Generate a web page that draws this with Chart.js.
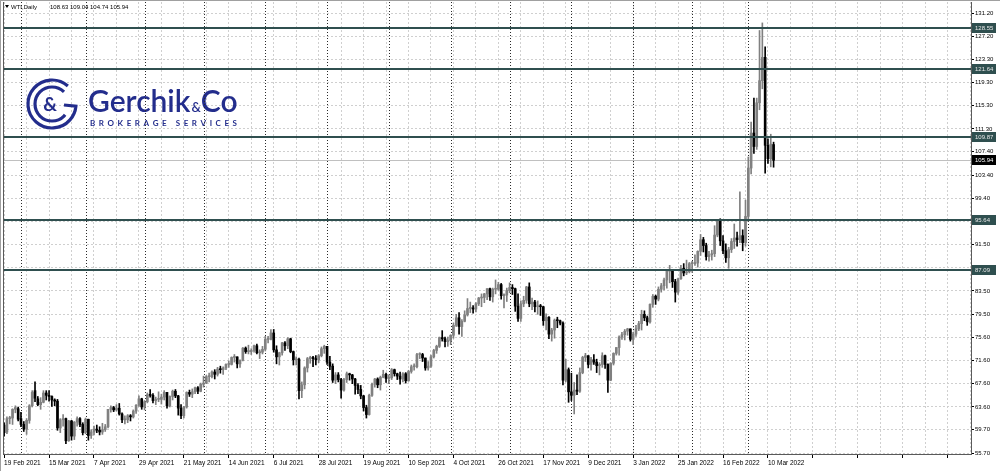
<!DOCTYPE html>
<html>
<head>
<meta charset="utf-8">
<title>WTI Daily</title>
<script src="https://cdn.jsdelivr.net/npm/chart.js@4.4.0/dist/chart.umd.min.js"></script>
<style>
  html, body { margin: 0; padding: 0; background: #fff; }
  #wrap { width: 1000px; height: 471px; }
</style>
</head>
<body>
<div id="wrap"><canvas id="wti" width="1000" height="471"></canvas></div>
<script>
// one label every 16 bars, bar 0 = 19 Feb 2021
const dateLabels = ['19 Feb 2021', '15 Mar 2021', '7 Apr 2021', '29 Apr 2021', '21 May 2021', '14 Jun 2021',
  '6 Jul 2021', '28 Jul 2021', '19 Aug 2021', '10 Sep 2021', '4 Oct 2021', '26 Oct 2021', '17 Nov 2021',
  '9 Dec 2021', '3 Jan 2022', '25 Jan 2022', '16 Feb 2022', '10 Mar 2022'];

// first bar of each month (period separators)
const monthStarts = [6, 29, 50, 71, 93, 115, 137, 159, 180, 202, 224, 245, 265];

const yTicks = [131.20, 127.20, 123.30, 119.30, 115.30, 111.30, 107.40, 103.40, 99.40, 95.50, 91.50,
  87.50, 83.50, 79.50, 75.60, 71.60, 67.60, 63.60, 59.70, 55.70];

const levels = [128.55, 121.64, 109.87, 95.64, 87.09];
const lastPrice = 105.94;
const legendValues = ['108.63', '109.04', '104.74', '105.94'];

const opens = [
  60.5, 59.3, 61.6, 61.7, 63.2, 63.3, 61.6, 60.6, 59.8, 61.3,
  63.8, 66.4, 65.0, 64.0, 64.4, 66.0, 65.6, 65.4, 64.8, 64.6,
  60.0, 61.4, 61.6, 57.8, 61.2, 58.6, 61.0, 61.6, 60.6, 59.2,
  61.5, 58.7, 59.3, 59.8, 59.6, 59.3, 59.7, 60.2, 63.2, 63.5,
  63.1, 63.4, 62.4, 61.4, 61.4, 62.1, 61.9, 62.9, 63.9, 65.0,
  63.6, 64.5, 65.7, 65.6, 64.7, 64.9, 64.9, 65.3, 66.1, 63.8,
  65.4, 66.3, 65.5, 63.4, 62.1, 63.6, 66.1, 65.8, 66.2, 66.9,
  66.3, 67.5, 67.7, 68.8, 68.8, 69.6, 69.2, 70.1, 70.0, 70.3,
  70.9, 70.9, 72.1, 72.2, 71.0, 71.6, 73.7, 73.1, 73.1, 73.3,
  74.1, 72.9, 73.0, 73.5, 75.2, 75.2, 76.3, 73.4, 72.2, 72.9,
  74.6, 74.1, 75.3, 73.1, 71.7, 71.8, 66.4, 67.4, 70.3, 71.9,
  72.1, 71.9, 71.7, 72.4, 73.6, 74.0, 71.3, 70.6, 68.2, 69.1,
  68.3, 66.5, 68.3, 69.3, 69.1, 68.4, 67.3, 66.6, 65.5, 63.5,
  62.3, 65.6, 67.5, 68.4, 67.4, 68.7, 69.2, 68.5, 68.6, 70.0,
  69.3, 68.9, 68.4, 69.3, 68.1, 69.7, 70.5, 70.5, 72.6, 72.6,
  72.0, 70.3, 70.6, 72.2, 73.3, 74.0, 75.5, 75.3, 74.8, 75.0,
  75.9, 77.6, 78.9, 77.4, 78.3, 79.4, 80.5, 80.6, 80.4, 81.3,
  82.3, 82.4, 83.0, 83.9, 82.5, 83.8, 83.8, 84.6, 82.7, 82.8,
  83.6, 84.1, 83.9, 80.9, 78.8, 81.3, 81.9, 84.2, 81.3, 81.6,
  80.8, 80.9, 80.8, 78.4, 79.0, 76.1, 76.8, 78.5, 78.4, 78.0,
  68.2, 70.0, 66.2, 65.6, 66.5, 66.3, 69.5, 72.1, 72.4, 70.9,
  71.7, 71.3, 70.7, 70.9, 72.4, 70.9, 68.2, 71.1, 72.8, 73.8,
  75.6, 76.0, 76.6, 77.0, 75.2, 76.1, 77.0, 77.9, 79.5, 78.9,
  78.2, 81.2, 82.6, 82.1, 83.8, 84.4, 85.4, 86.9, 86.9, 85.1,
  83.3, 85.6, 87.4, 86.6, 86.8, 88.2, 88.2, 88.3, 90.3, 92.3,
  91.3, 89.4, 89.7, 89.9, 93.1, 95.5, 92.1, 90.4, 89.2, 90.6,
  92.0, 92.6, 92.3, 93.0, 91.8, 96.3, 104.6, 110.6, 108.3, 115.8,
  119.6, 123.6, 108.5, 106.2, 108.63
];

const highs = [
  60.9, 61.9, 62.0, 63.3, 63.8, 63.6, 62.7, 61.1, 61.6, 64.0,
  66.4, 67.9, 65.4, 65.2, 66.4, 66.4, 66.4, 65.5, 65.0, 64.9,
  61.6, 62.3, 61.7, 61.3, 61.3, 61.1, 61.9, 61.8, 60.9, 61.7,
  61.5, 59.7, 60.3, 60.5, 60.2, 60.8, 60.6, 63.2, 63.8, 63.7,
  64.0, 64.2, 62.6, 62.1, 62.3, 62.3, 63.1, 64.0, 65.5, 65.1,
  64.7, 66.0, 66.6, 65.9, 65.3, 66.2, 65.8, 66.4, 66.1, 65.5,
  66.5, 66.6, 65.6, 64.0, 63.7, 66.2, 66.5, 66.7, 67.0, 67.1,
  67.7, 68.9, 69.0, 69.4, 69.8, 70.0, 70.4, 70.6, 70.5, 71.0,
  71.5, 72.2, 72.6, 72.2, 71.7, 73.8, 73.9, 74.2, 73.6, 74.2,
  74.4, 73.4, 74.0, 75.7, 75.7, 76.9, 76.9, 74.1, 73.0, 74.7,
  74.8, 75.5, 75.4, 73.2, 72.2, 72.0, 67.9, 70.5, 72.1, 72.3,
  72.3, 72.4, 72.6, 73.9, 74.2, 74.0, 72.3, 71.0, 69.5, 69.5,
  68.5, 68.5, 69.6, 69.4, 69.2, 68.5, 67.6, 67.3, 65.6, 63.9,
  65.8, 67.7, 68.5, 68.6, 68.9, 69.9, 69.4, 69.1, 70.2, 70.1,
  69.4, 69.6, 69.5, 69.5, 69.9, 70.8, 71.0, 72.8, 72.9, 72.8,
  72.0, 71.4, 72.5, 73.5, 74.2, 75.6, 76.7, 75.6, 75.6, 76.0,
  78.0, 79.5, 79.8, 78.6, 80.1, 82.2, 81.6, 81.0, 81.5, 82.4,
  83.0, 83.1, 83.9, 84.0, 84.0, 85.4, 85.0, 84.8, 83.0, 84.0,
  84.9, 84.6, 84.0, 83.0, 81.8, 82.6, 84.3, 84.9, 82.3, 81.9,
  81.8, 81.2, 80.9, 79.6, 79.1, 77.1, 78.7, 79.0, 78.5, 78.2,
  71.8, 70.3, 69.4, 67.8, 69.1, 70.3, 72.3, 72.8, 72.4, 72.1,
  72.6, 71.8, 71.2, 72.9, 72.5, 71.0, 71.2, 72.9, 73.8, 75.8,
  76.4, 76.9, 77.1, 77.0, 76.4, 77.6, 78.3, 80.2, 80.1, 79.2,
  81.3, 82.9, 82.8, 84.2, 84.8, 85.7, 87.0, 87.9, 87.0, 85.5,
  85.7, 87.9, 88.2, 88.8, 88.4, 88.6, 89.7, 90.4, 93.2, 92.7,
  91.7, 90.3, 90.5, 94.7, 95.8, 95.9, 93.0, 91.6, 91.0, 92.5,
  95.0, 93.6, 100.5, 94.0, 99.1, 106.5, 112.5, 116.6, 116.6, 128.2,
  129.5, 125.4, 109.6, 110.4, 109.04
];

const lows = [
  58.6, 59.0, 60.7, 60.6, 62.6, 61.2, 60.2, 59.4, 58.9, 60.8,
  63.6, 64.5, 63.8, 63.2, 64.3, 64.8, 64.6, 63.7, 63.8, 59.6,
  59.2, 60.3, 57.3, 57.7, 57.9, 58.0, 60.3, 60.2, 58.8, 59.0,
  57.9, 58.2, 58.8, 59.2, 58.8, 58.9, 59.4, 60.0, 62.7, 62.8,
  62.9, 62.2, 60.9, 60.7, 60.9, 61.2, 61.7, 62.5, 63.7, 63.2,
  63.1, 64.3, 65.3, 64.3, 64.0, 64.5, 64.1, 64.8, 63.4, 63.6,
  64.8, 65.2, 62.2, 61.6, 61.7, 63.4, 65.4, 65.2, 65.9, 65.9,
  66.2, 67.0, 67.6, 67.9, 68.6, 68.4, 68.9, 69.4, 69.2, 70.0,
  70.4, 70.8, 71.3, 70.3, 70.4, 71.5, 72.8, 72.7, 72.6, 73.0,
  72.7, 71.9, 72.7, 73.2, 74.6, 75.1, 73.0, 71.0, 70.8, 72.5,
  73.3, 73.6, 72.9, 70.8, 70.8, 65.0, 65.2, 66.7, 69.6, 71.1,
  70.5, 70.8, 71.2, 72.2, 72.8, 70.9, 70.0, 67.8, 67.6, 67.9,
  65.1, 66.3, 67.8, 68.2, 67.6, 65.8, 65.9, 65.0, 62.9, 61.7,
  62.2, 65.4, 67.0, 66.9, 66.5, 68.6, 67.8, 67.6, 68.3, 68.9,
  68.3, 67.5, 67.9, 67.7, 68.0, 69.4, 69.9, 70.3, 71.9, 71.4,
  69.9, 69.9, 70.4, 72.0, 72.8, 73.8, 74.9, 73.9, 74.0, 74.3,
  75.4, 77.4, 76.1, 75.7, 78.2, 79.2, 79.8, 79.7, 79.9, 81.0,
  80.8, 81.5, 82.0, 81.9, 81.6, 83.0, 83.6, 82.1, 80.6, 81.7,
  83.2, 82.9, 80.0, 78.3, 78.3, 80.8, 81.4, 80.8, 80.3, 79.9,
  79.5, 79.3, 77.6, 76.8, 75.3, 74.9, 75.4, 77.2, 77.7, 67.4,
  67.9, 64.4, 64.7, 62.4, 65.7, 66.1, 69.3, 71.4, 70.3, 69.9,
  70.9, 69.5, 69.1, 70.4, 70.2, 66.1, 68.1, 70.8, 72.5, 72.5,
  75.2, 75.1, 75.9, 74.9, 74.3, 75.7, 76.7, 76.8, 78.4, 77.6,
  78.0, 80.7, 81.2, 81.8, 83.3, 83.7, 84.0, 84.9, 84.1, 81.6,
  82.9, 85.5, 86.1, 86.3, 86.6, 86.7, 87.9, 87.6, 89.6, 90.2,
  88.8, 88.6, 88.8, 89.4, 92.8, 91.3, 89.9, 88.4, 87.4, 90.1,
  90.8, 91.2, 91.8, 90.4, 91.2, 95.5, 103.6, 107.1, 107.8, 114.6,
  118.2, 103.7, 105.4, 104.8, 104.74
];

const closes = [
  59.2, 61.6, 61.7, 63.2, 63.5, 61.5, 60.6, 59.8, 61.3, 63.8,
  66.1, 65.1, 64.0, 64.4, 66.0, 65.6, 65.4, 64.8, 64.6, 60.0,
  61.4, 61.6, 57.8, 61.2, 58.6, 61.0, 61.6, 60.6, 59.2, 61.5,
  58.7, 59.3, 59.8, 59.6, 59.3, 59.7, 60.2, 63.2, 63.5, 63.1,
  63.4, 62.4, 61.4, 61.4, 62.1, 61.9, 62.9, 63.9, 65.0, 63.6,
  64.5, 65.7, 65.6, 64.7, 64.9, 64.9, 65.3, 66.1, 63.8, 65.4,
  66.3, 65.5, 63.4, 62.1, 63.6, 66.1, 65.8, 66.2, 66.9, 66.3,
  67.5, 67.7, 68.8, 68.8, 69.6, 69.2, 70.1, 70.0, 70.3, 70.9,
  70.9, 72.1, 72.2, 71.0, 71.6, 73.7, 73.1, 73.1, 73.3, 74.1,
  72.9, 73.0, 73.5, 75.2, 75.2, 76.3, 73.4, 72.2, 72.9, 74.6,
  74.1, 75.3, 73.1, 71.7, 71.8, 66.4, 67.4, 70.3, 71.9, 72.1,
  71.9, 71.7, 72.4, 73.6, 74.0, 71.3, 70.6, 68.2, 69.1, 68.3,
  66.5, 68.3, 69.3, 69.1, 68.4, 67.3, 66.6, 65.5, 63.5, 62.3,
  65.6, 67.5, 68.4, 67.4, 68.7, 69.2, 68.5, 68.6, 70.0, 69.3,
  68.9, 68.4, 69.3, 68.1, 69.7, 70.5, 70.5, 72.6, 72.6, 72.0,
  70.3, 70.6, 72.2, 73.3, 74.0, 75.5, 75.3, 74.8, 75.0, 75.9,
  77.6, 78.9, 77.4, 78.3, 79.4, 80.5, 80.6, 80.4, 81.3, 82.3,
  82.4, 83.0, 83.9, 82.5, 83.8, 83.8, 84.6, 82.7, 82.8, 83.6,
  84.1, 83.9, 80.9, 78.8, 81.3, 81.9, 84.2, 81.3, 81.6, 80.8,
  80.9, 80.8, 78.4, 79.0, 76.1, 76.8, 78.5, 78.4, 78.0, 68.2,
  70.0, 66.2, 65.6, 66.5, 66.3, 69.5, 72.1, 72.4, 70.9, 71.7,
  71.3, 70.7, 70.9, 72.4, 70.9, 68.2, 71.1, 72.8, 73.8, 75.6,
  76.0, 76.6, 77.0, 75.2, 76.1, 77.0, 77.9, 79.5, 78.9, 78.2,
  81.2, 82.6, 82.1, 83.8, 84.4, 85.4, 86.9, 86.9, 85.1, 83.3,
  85.6, 87.4, 86.6, 86.8, 88.2, 88.2, 88.3, 90.3, 92.3, 91.3,
  89.4, 89.7, 89.9, 93.1, 95.5, 92.1, 90.4, 89.2, 90.6, 92.0,
  92.6, 92.3, 93.0, 91.8, 96.3, 104.6, 110.6, 108.3, 115.8, 119.6,
  123.6, 108.5, 106.2, 108.7, 105.94
];

const FONT = '"Liberation Sans", Arial, sans-serif';
const UP = '#808080';
const DOWN = '#000000';
const LEVEL = '#2f4f4f';
const BLUE = '#232d8c';

function candleColor(c) {
  const i = c.dataIndex;
  return closes[i] >= opens[i] ? UP : DOWN;
}

function drawLogo(ctx) {
  const cx = 52, cy = 104;
  ctx.save();
  ctx.strokeStyle = BLUE;
  ctx.fillStyle = BLUE;
  ctx.setLineDash([]);
  ctx.lineWidth = 3.2;
  ctx.beginPath();
  ctx.arc(cx, cy, 24, -Math.PI * 0.27, Math.PI * 0.03, true);
  ctx.lineTo(cx + 12, cy + 1);
  ctx.stroke();
  ctx.beginPath();
  ctx.arc(cx, cy, 17, -Math.PI * 0.25, Math.PI * 0.22, true);
  ctx.stroke();
  ctx.font = 'bold 19px Lato, ' + FONT;
  ctx.textAlign = 'center';
  ctx.textBaseline = 'middle';
  ctx.fillText('&', cx - 2, cy + 1);

  ctx.textAlign = 'left';
  ctx.textBaseline = 'alphabetic';
  ctx.font = '600 30px Lato, ' + FONT;
  ctx.fillText('Gerchik', 88, 112);
  const gw = ctx.measureText('Gerchik').width;
  ctx.font = '600 13px Lato, ' + FONT;
  ctx.fillText('&', 88 + gw + 1, 112);
  const aw = ctx.measureText('&').width;
  ctx.font = '600 30px Lato, ' + FONT;
  ctx.fillText('Co', 88 + gw + aw + 1, 112);

  // spaced subtitle, drawn letter by letter
  const sub = 'BROKERAGE SERVICES';
  ctx.font = 'bold 8px Lato, ' + FONT;
  let plain = 0;
  for (const ch of sub) plain += ctx.measureText(ch).width;
  const gap = (147 - plain) / (sub.length - 1);
  let px = 90;
  for (const ch of sub) {
    ctx.fillText(ch, px, 126);
    px += ctx.measureText(ch).width + gap;
  }
  ctx.restore();
}

const overlay = {
  id: 'overlay',
  beforeDatasetsDraw(chart) {
    const { ctx, chartArea: a, scales: { x, y } } = chart;
    ctx.save();
    drawLogo(ctx);
    // monthly separators
    ctx.strokeStyle = '#2a2a2a';
    ctx.lineWidth = 1;
    ctx.setLineDash([1, 2]);
    monthStarts.forEach(i => {
      const px = Math.round(x.getPixelForValue(i)) + 0.5;
      ctx.beginPath();
      ctx.moveTo(px, a.top);
      ctx.lineTo(px, a.bottom);
      ctx.stroke();
    });
    // last price line
    ctx.setLineDash([]);
    ctx.strokeStyle = '#c0c0c0';
    const ly = Math.round(y.getPixelForValue(lastPrice)) + 0.5;
    ctx.beginPath();
    ctx.moveTo(a.left, ly);
    ctx.lineTo(a.right, ly);
    ctx.stroke();
    ctx.restore();
  },
  afterDatasetsDraw(chart) {
    const { ctx, chartArea: a, scales: { y } } = chart;
    ctx.save();
    ctx.strokeStyle = LEVEL;
    ctx.lineWidth = 2;
    levels.forEach(v => {
      const py = Math.round(y.getPixelForValue(v));
      ctx.beginPath();
      ctx.moveTo(a.left, py);
      ctx.lineTo(a.right, py);
      ctx.stroke();
    });
    ctx.restore();
  },
  afterDraw(chart) {
    const { ctx, chartArea: a, scales: { y } } = chart;
    ctx.save();
    ctx.font = '6px ' + FONT;
    ctx.textBaseline = 'middle';
    ctx.textAlign = 'left';
    const box = (v, bg, fg) => {
      const py = Math.round(y.getPixelForValue(v));
      ctx.fillStyle = bg;
      ctx.fillRect(a.right + 1, py - 5, 24, 10);
      ctx.fillStyle = fg;
      ctx.fillText(v.toFixed(2), a.right + 4, py + 0.5);
    };
    levels.forEach(v => box(v, LEVEL, '#e8e8e8'));
    box(lastPrice, '#000000', '#ffffff');

    // frame
    ctx.strokeStyle = '#5a5a5a';
    ctx.lineWidth = 1;
    ctx.beginPath();
    ctx.moveTo(a.left + 0.5, a.top);
    ctx.lineTo(a.left + 0.5, a.bottom);
    ctx.stroke();
    ctx.strokeStyle = '#a0a0a0';
    ctx.beginPath();
    ctx.moveTo(0, 0.5);
    ctx.lineTo(1000, 0.5);
    ctx.moveTo(0.5, 0);
    ctx.lineTo(0.5, 471);
    ctx.stroke();

    // symbol legend
    ctx.fillStyle = '#000';
    ctx.beginPath();
    ctx.moveTo(5, 5);
    ctx.lineTo(9, 5);
    ctx.lineTo(7, 8);
    ctx.closePath();
    ctx.fill();
    ctx.textBaseline = 'alphabetic';
    ctx.fillText('WTI,Daily', 11, 9);
    ctx.fillText(legendValues.join(' '), 50, 9);
    ctx.restore();
  }
};

const wickData = highs.map((h, i) => ({ x: i, y: [lows[i], h] }));
const bodyData = opens.map((o, i) => ({ x: i, y: [o, closes[i]] }));

new Chart(document.getElementById('wti'), {
  type: 'bar',
  data: {
    datasets: [
      {
        label: 'body',
        data: bodyData,
        backgroundColor: candleColor,
        barThickness: 2,
        minBarLength: 1,
        grouped: false,
        order: 1
      },
      {
        label: 'wick',
        data: wickData,
        backgroundColor: candleColor,
        barThickness: 1,
        grouped: false,
        order: 2
      }
    ]
  },
  options: {
    responsive: false,
    devicePixelRatio: 1,
    animation: false,
    events: [],
    layout: { padding: { left: 3, top: 2, right: 0, bottom: 0 } },
    plugins: { legend: { display: false }, tooltip: { enabled: false } },
    scales: {
      x: {
        type: 'linear',
        offset: false,
        min: -0.4,
        max: 344.3,
        grid: {
          offset: false,
          color: '#cfcfcf',
          drawTicks: true,
          tickLength: 4,
          tickColor: c => (c.tick && c.tick.value % 16 === 0 ? '#000' : 'rgba(0,0,0,0)'),
          tickBorderDash: []
        },
        border: { display: true, color: '#5a5a5a', width: 1, dash: [2, 2] },
        afterBuildTicks: s => {
          const t = [];
          for (let v = 0; v <= 344; v += 8) t.push({ value: v });
          s.ticks = t;
        },
        afterFit: s => {
          s.height = 17;
          s.paddingLeft = 0;
          s.paddingRight = 0;
        },
        ticks: {
          autoSkip: false,
          maxRotation: 0,
          minRotation: 0,
          align: 'start',
          padding: 1,
          color: '#000',
          font: { family: FONT, size: 6.5 },
          callback: v => (v % 16 === 0 && dateLabels[v / 16]) ? dateLabels[v / 16] : ''
        }
      },
      y: {
        type: 'linear',
        position: 'right',
        beginAtZero: false,
        min: 55.53,
        max: 133.09,
        grid: {
          color: '#cfcfcf',
          drawTicks: true,
          tickLength: 3,
          tickColor: '#000',
          tickBorderDash: []
        },
        border: { display: true, color: '#5a5a5a', width: 1, dash: [2, 2] },
        afterBuildTicks: s => { s.ticks = yTicks.map(v => ({ value: v })); },
        afterFit: s => {
          s.width = 29;
          s.paddingTop = 0;
          s.paddingBottom = 0;
        },
        ticks: {
          padding: 1,
          color: '#000',
          font: { family: FONT, size: 6 },
          callback: v => Number(v).toFixed(2)
        }
      }
    }
  },
  plugins: [overlay]
});
</script>
</body>
</html>
